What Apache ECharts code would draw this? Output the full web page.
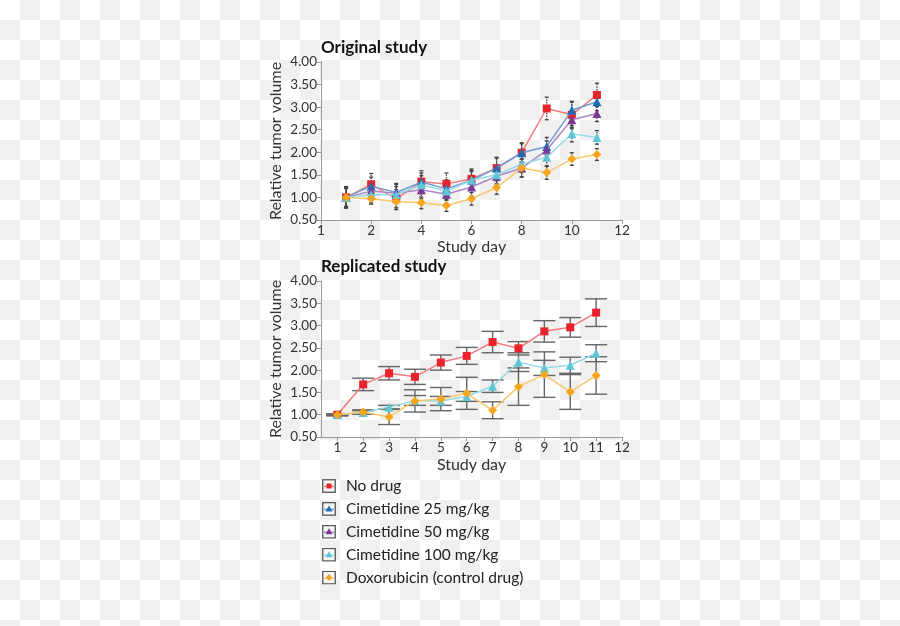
<!DOCTYPE html>
<html>
<head>
<meta charset="utf-8">
<script src="https://cdn.jsdelivr.net/npm/echarts@6/dist/echarts.min.js"></script>
<style>
html,body{margin:0;padding:0;width:900px;height:626px;overflow:hidden;
background-color:#fff;
background-image:conic-gradient(#f0f0f0 0 25%, #ffffff 0 50%, #f0f0f0 0 75%, #ffffff 0);
background-size:40px 40px;}
#c{width:900px;height:626px;}
</style>
</head>
<body>
<div id="c"></div>
<script>
// ---------- data ----------
var seriesNames = ['No drug','Cimetidine 25 mg/kg','Cimetidine 50 mg/kg','Cimetidine 100 mg/kg','Doxorubicin (control drug)'];
var days = [1,2,3,4,5,6,7,8,9,10,11];

// Original study (means)
var origNoDrug = [1.00,1.29,0.97,1.35,1.30,1.41,1.65,1.99,2.97,2.83,3.27];
var origCim25  = [1.00,1.25,1.11,1.34,1.19,1.38,1.65,1.99,2.13,2.93,3.12];
var origCim50  = [1.00,1.14,1.09,1.17,1.07,1.23,1.47,1.65,2.05,2.72,2.86];
var origCim100 = [1.00,1.06,1.06,1.28,1.14,1.38,1.50,1.74,1.89,2.41,2.33];
var origDoxo   = [1.00,0.97,0.91,0.88,0.82,0.97,1.22,1.65,1.55,1.85,1.95];
// Original study (error, +/-)
var origErrNoDrug = [0.24,0.24,0.20,0.24,0.24,0.22,0.24,0.22,0.25,0.28,0.26];
var origErrCim25  = [0.22,0.20,0.20,0.20,0.20,0.22,0.22,0.20,0.20,0.20,0.20];
var origErrCim50  = [0.22,0.18,0.20,0.20,0.20,0.20,0.20,0.20,0.20,0.20,0.18];
var origErrCim100 = [0.20,0.18,0.18,0.20,0.20,0.20,0.20,0.18,0.20,0.18,0.15];
var origErrDoxo   = [0.20,0.12,0.18,0.13,0.13,0.14,0.15,0.20,0.15,0.14,0.13];

// Replicated study (means)
var repNoDrug = [1.00,1.68,1.93,1.85,2.17,2.32,2.63,2.49,2.87,2.96,3.29];
var repCim100 = [1.00,1.05,1.17,1.32,1.31,1.41,1.64,2.18,2.05,2.11,2.38];
var repDoxo   = [1.00,1.06,0.95,1.31,1.35,1.48,1.10,1.63,1.90,1.51,1.88];
// Replicated study (error, +/-)
var repErrNoDrug = [0.02,0.14,0.15,0.17,0.17,0.19,0.24,0.15,0.24,0.22,0.31];
var repErrCim100 = [0.02,0.04,0.04,0.11,0.10,0.11,0.14,0.21,0.17,0.18,0.19];
var repErrDoxo   = [0.02,0.05,0.17,0.25,0.26,0.36,0.19,0.42,0.51,0.39,0.42];

// tick labels
var topXTickValues = [0,2,4,6,8,10,12];
var topXTickLabels = ['1','2','4','6','8','10','12'];
var bottomXTicks = [1,2,3,4,5,6,7,8,9,10,11,12];

// ---------- styles ----------
var markerColors = ['#e8232b','#1f6db3','#7a3a96','#5ec6d6','#f5a51f'];
var lineColors   = ['#f27a7e','#6d9dd2','#ad87c4','#95dbe6','#f8c66c'];
var symbols      = ['rect','triangle','triangle','triangle','diamond'];
var symbolSizes  = [8,9,9,9,9];
var FONT = 'Lato, "Open Sans", sans-serif';

function pairs(vals){ return days.map(function(d,i){ return [d, vals[i]]; }); }
function errData(vals, errs){ return days.map(function(d,i){ return [d, vals[i]-errs[i], vals[i]+errs[i]]; }); }

function lineSeries(idx, vals, gridIdx){
  return {
    name: seriesNames[idx], type:'line', xAxisIndex:gridIdx, yAxisIndex:gridIdx,
    data: pairs(vals), symbol: symbols[idx], symbolSize: symbolSizes[idx],
    itemStyle:{color:markerColors[idx]}, lineStyle:{color:lineColors[idx], width:1.5},
    z: 5 + idx, animation:false
  };
}
function errSeries(idx, vals, errs, gridIdx, capHalf, dotted){
  return {
    name: seriesNames[idx], type:'custom', xAxisIndex:gridIdx, yAxisIndex:gridIdx,
    data: errData(vals, errs), encode:{x:0, y:[1,2]}, z: 3, animation:false,
    renderItem: function(params, api){
      var x = api.value(0);
      var lo = api.coord([x, api.value(1)]);
      var hi = api.coord([x, api.value(2)]);
      var st = {stroke: dotted ? '#444' : '#666', lineWidth: dotted ? 1.3 : 1.4, lineDash: dotted ? [1.5,1.2] : null};
      return {type:'group', children:[
        {type:'line', shape:{x1:lo[0], y1:lo[1], x2:hi[0], y2:hi[1]}, style:st},
        {type:'line', shape:{x1:lo[0]-capHalf, y1:lo[1], x2:lo[0]+capHalf, y2:lo[1]}, style:{stroke:st.stroke, lineWidth:st.lineWidth}},
        {type:'line', shape:{x1:hi[0]-capHalf, y1:hi[1], x2:hi[0]+capHalf, y2:hi[1]}, style:{stroke:st.stroke, lineWidth:st.lineWidth}}
      ]};
    }
  };
}

function markerSvg(idx){
  var c = markerColors[idx], shape;
  if (symbols[idx] === 'rect') shape = '<rect x="4.5" y="4.5" width="5" height="5" fill="'+c+'"/>';
  else if (symbols[idx] === 'triangle') shape = '<polygon points="7,3.5 10.5,9.5 3.5,9.5" fill="'+c+'"/>';
  else shape = '<polygon points="7,3.5 10.2,7 7,10.5 3.8,7" fill="'+c+'"/>';
  var svg = '<svg xmlns="http://www.w3.org/2000/svg" width="28" height="28" viewBox="0 0 14 14">' +
    '<rect x="0.75" y="0.75" width="12.5" height="12.5" fill="#f6f6f6" stroke="#555" stroke-width="1.3"/>' +
    '<line x1="2" y1="7.5" x2="12" y2="7.5" stroke="'+lineColors[idx]+'" stroke-width="1.4"/>' + shape + '</svg>';
  return 'image://data:image/svg+xml;charset=utf-8,' + encodeURIComponent(svg);
}

function yAxis(gridIdx){
  return {
    type:'value', gridIndex:gridIdx, min:0.5, max:4, interval:0.5,
    name:'Relative tumor volume', nameLocation:'middle', nameGap:37,
    nameTextStyle:{fontFamily:FONT, fontSize:16, color:'#333'},
    axisLine:{show:true, lineStyle:{color:'#999', width:1}},
    axisTick:{show:true, length:4, lineStyle:{color:'#999'}},
    axisLabel:{fontFamily:FONT, fontSize:13.5, color:'#333', margin:4, formatter:function(v){return v.toFixed(2);}},
    splitLine:{show:false}
  };
}

var chart = echarts.init(document.getElementById('c'), null, {renderer:'canvas'});
var series = [];
var orig = [origNoDrug, origCim25, origCim50, origCim100, origDoxo];
var origErr = [origErrNoDrug, origErrCim25, origErrCim50, origErrCim100, origErrDoxo];
for (var i=0;i<5;i++) series.push(errSeries(i, orig[i], origErr[i], 0, 2, true));
for (var i=0;i<5;i++) series.push(lineSeries(i, orig[i], 0));
var rep = [[0,repNoDrug,repErrNoDrug],[3,repCim100,repErrCim100],[4,repDoxo,repErrDoxo]];
rep.forEach(function(r){ series.push(errSeries(r[0], r[1], r[2], 1, 11, false)); });
rep.forEach(function(r){ series.push(lineSeries(r[0], r[1], 1)); });

chart.setOption({
  animation:false,
  backgroundColor:'transparent',
  title:[
    {text:'Original study', left:321, top:39, padding:0, textStyle:{fontFamily:FONT, fontSize:17, fontWeight:'bold', color:'#111'}},
    {text:'Replicated study', left:321, top:258, padding:0, textStyle:{fontFamily:FONT, fontSize:17, fontWeight:'bold', color:'#111'}}
  ],
  legend:{
    orient:'vertical', left:317, top:473, itemWidth:14, itemHeight:14, itemGap:6.9,
    textStyle:{fontFamily:FONT, fontSize:15.5, color:'#222', padding:[0,0,0,5]},
    data: seriesNames.map(function(n,i){ return {name:n, icon:markerSvg(i)}; })
  },
  grid:[
    {left:321, top:62, width:301, height:158, containLabel:false},
    {left:321, top:281, width:301, height:156, containLabel:false}
  ],
  xAxis:[
    {type:'value', gridIndex:0, min:0, max:12, interval:2,
     name:'Study day', nameLocation:'middle', nameGap:18,
     nameTextStyle:{fontFamily:FONT, fontSize:16, color:'#333'},
     axisLine:{show:true, lineStyle:{color:'#999'}}, axisTick:{show:true, length:4, lineStyle:{color:'#999'}},
     axisLabel:{fontFamily:FONT, fontSize:13.5, color:'#333', margin:4,
       formatter:function(v){ var k = topXTickValues.indexOf(v); return k>=0 ? topXTickLabels[k] : ''; }},
     splitLine:{show:false}},
    {type:'value', gridIndex:1, min:0.37, max:12,
     name:'Study day', nameLocation:'middle', nameGap:20,
     nameTextStyle:{fontFamily:FONT, fontSize:16, color:'#333'},
     axisLine:{show:true, lineStyle:{color:'#999'}},
     axisTick:{show:true, length:4, lineStyle:{color:'#999'}, customValues:bottomXTicks},
     axisLabel:{fontFamily:FONT, fontSize:13.5, color:'#333', margin:4, customValues:bottomXTicks},
     splitLine:{show:false}}
  ],
  yAxis:[yAxis(0), yAxis(1)],
  series: series
});
</script>
</body>
</html>
